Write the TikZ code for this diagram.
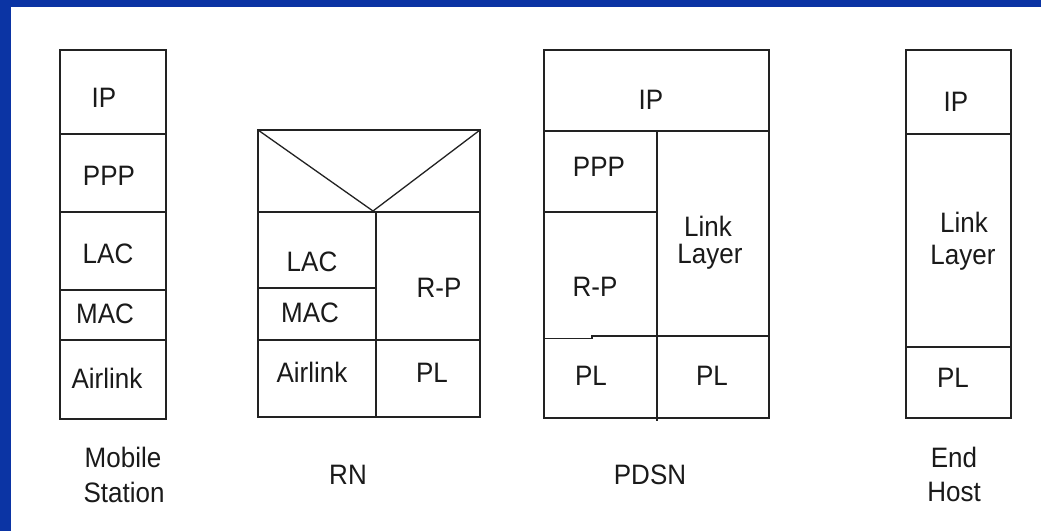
\documentclass[tikz,border=0pt]{standalone}
\usepackage{graphicx}
\usepackage{fontspec}
\setmainfont{Liberation Sans}
\definecolor{frameblue}{HTML}{0B34A4}
\definecolor{ink}{HTML}{222222}
\definecolor{txt}{HTML}{1A1A1A}
\newcommand\tallbox[1]{\scalebox{1}[1.08]{#1}}
\tikzset{
  layer/.style={draw=ink, line width=1.6pt},
  lbl/.style={font=\fontsize{26}{32}\selectfont, text=txt, inner sep=0pt,
              text height=20pt, text depth=0pt, anchor=center},
}
\begin{document}
\begin{tikzpicture}[x=1pt, y=-1pt]
\useasboundingbox (0,0) rectangle (1041,531);
\fill[white] (0,0) rectangle (1041,531);
% blue frame along the top and left edges
\fill[frameblue] (0,0) rectangle (1041,7);
\fill[frameblue] (0,0) rectangle (11,531);

% ---- Mobile Station stack ----
\draw[layer] (60,50) rectangle (166,419);
\draw[layer] (60,134) -- (166,134);
\draw[layer] (60,212) -- (166,212);
\draw[layer] (60,290) -- (166,290);
\draw[layer] (60,340) -- (166,340);
\node[lbl] (msIP)   at (104,97)  {\tallbox{IP}};
\node[lbl] (msPPP)  at (109,175) {\tallbox{PPP}};
\node[lbl] (msLAC)  at (108,253) {\tallbox{LAC}};
\node[lbl] (msMAC)  at (105,313) {\tallbox{MAC}};
\node[lbl] (msAir)  at (107,378) {\tallbox{Airlink}};
\node[lbl] (msName1) at (123,457) {\tallbox{Mobile}};
\node[lbl] (msName2) at (124,492) {\tallbox{Station}};

% ---- RN stack ----
\draw[layer] (258,130) rectangle (480,417);
\draw[layer] (258,212) -- (480,212);
\draw[layer] (376,212) -- (376,417);
\draw[layer] (258,288) -- (376,288);
\draw[layer] (258,340) -- (480,340);
\draw[ink, line width=1.3pt] (258,130) -- (373,211) -- (480,130);
\node[lbl] (rnLAC) at (312,261) {\tallbox{LAC}};
\node[lbl] (rnMAC) at (310,312) {\tallbox{MAC}};
\node[lbl] (rnRP)  at (439,287) {\tallbox{R-P}};
\node[lbl] (rnAir) at (312,372) {\tallbox{Airlink}};
\node[lbl] (rnPL)  at (432,372) {\tallbox{PL}};
\node[lbl] (rnName) at (348,474) {\tallbox{RN}};

% ---- PDSN stack ----
\draw[layer] (544,50) rectangle (769,418);
\draw[layer] (544,131) -- (769,131);
\draw[layer] (657,131) -- (657,421);
\draw[layer] (544,212) -- (657,212);
\draw[layer] (544,338.5) -- (592,338.5) -- (592,336) -- (657,336);
\draw[layer] (657,336) -- (769,336);
\node[lbl] (pdIP)   at (651,99)  {\tallbox{IP}};
\node[lbl] (pdPPP)  at (599,166) {\tallbox{PPP}};
\node[lbl] (pdLink1) at (708,226) {\tallbox{Link}};
\node[lbl] (pdLink2) at (710,253) {\tallbox{Layer}};
\node[lbl] (pdRP)   at (595,286) {\tallbox{R-P}};
\node[lbl] (pdPL1)  at (591,375) {\tallbox{PL}};
\node[lbl] (pdPL2)  at (712,375) {\tallbox{PL}};
\node[lbl] (pdName) at (650,474) {\tallbox{PDSN}};

% ---- End Host stack ----
\draw[layer] (906,50) rectangle (1011,418);
\draw[layer] (906,134) -- (1011,134);
\draw[layer] (906,347) -- (1011,347);
\node[lbl] (ehIP)    at (956,101) {\tallbox{IP}};
\node[lbl] (ehLink1) at (964,222) {\tallbox{Link}};
\node[lbl] (ehLink2) at (963,254) {\tallbox{Layer}};
\node[lbl] (ehPL)    at (953,377) {\tallbox{PL}};
\node[lbl] (ehName1) at (954,457) {\tallbox{End}};
\node[lbl] (ehName2) at (954,491) {\tallbox{Host}};
\end{tikzpicture}
\end{document}
